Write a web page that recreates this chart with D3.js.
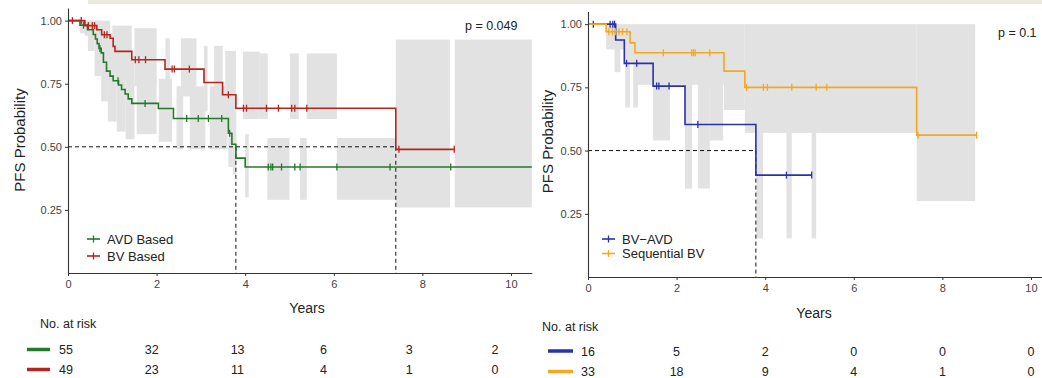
<!DOCTYPE html>
<html>
<head>
<meta charset="utf-8">
<script src="https://cdn.jsdelivr.net/npm/d3@7"></script>
<style>
  html, body { margin: 0; padding: 0; background: #fff; }
  svg { display: block; font-family: "Liberation Sans", Arial, sans-serif; }
</style>
</head>
<body>
<div id="chart"></div>
<script>
// Kaplan-Meier PFS curves - two panels
// Panel A: AVD based vs BV based; Panel B: BV-AVD vs sequential BV

const xTicks = [0, 2, 4, 6, 8, 10];
const yTicks = [0.25, 0.50, 0.75, 1.00];

// ── Panel A ────────────────────────────────────────────────────────────────
const avdTimes  = [0, 0.27, 0.44, 0.57, 0.62, 0.66, 0.70, 0.75, 0.80, 0.87, 0.95, 1.02, 1.14, 1.21, 1.29, 1.36, 1.44, 2.04, 2.38, 3.62, 3.70, 3.79, 4.00];
const avdSurv   = [1.00, 0.982, 0.964, 0.945, 0.927, 0.909, 0.890, 0.872, 0.835, 0.800, 0.780, 0.762, 0.745, 0.727, 0.709, 0.690, 0.672, 0.652, 0.612, 0.554, 0.510, 0.455, 0.420];
const avdEnd    = 10.47;
const avdCensor = [0.35, 0.72, 1.13, 1.74, 2.68, 2.94, 3.17, 3.47, 3.65, 4.52, 4.58, 4.62, 4.82, 5.12, 5.24, 6.07, 7.27, 8.64];

const bvTimes   = [0, 0.38, 0.65, 0.76, 0.95, 1.02, 1.06, 1.44, 2.19, 3.07, 3.49, 3.79, 7.40];
const bvSurv    = [1.00, 0.980, 0.964, 0.944, 0.930, 0.898, 0.878, 0.845, 0.808, 0.755, 0.706, 0.653, 0.490];
const bvEnd     = 8.72;
const bvCensor  = [0.10, 0.30, 0.46, 0.55, 0.60, 0.82, 0.88, 1.52, 1.60, 1.75, 2.35, 2.40, 2.74, 3.62, 3.96, 4.03, 4.48, 4.75, 5.05, 5.12, 5.39, 7.47, 8.72];

// confidence band blocks: [start, end, lower, upper]
const avdBand = [
  [0.27, 0.45, 0.95, 1.00], [0.45, 0.60, 0.88, 1.00], [0.60, 0.75, 0.78, 1.00],
  [0.75, 0.90, 0.68, 0.98], [0.90, 1.10, 0.60, 0.95], [1.10, 1.30, 0.56, 0.90],
  [1.30, 1.50, 0.53, 0.86], [1.55, 2.00, 0.55, 0.78], [2.05, 2.35, 0.52, 0.77],
  [2.45, 2.60, 0.49, 0.74], [2.75, 3.10, 0.49, 0.74], [3.20, 3.60, 0.49, 0.74],
  [3.62, 3.72, 0.42, 0.70], [3.72, 3.80, 0.39, 0.65], [4.00, 4.08, 0.30, 0.55],
  [4.50, 5.00, 0.29, 0.535], [5.24, 5.39, 0.29, 0.535], [6.07, 7.40, 0.29, 0.535],
  [7.40, 8.62, 0.26, 0.60], [8.73, 10.47, 0.26, 0.925]
];
const bvBand = [
  [0.38, 0.65, 0.94, 1.00], [0.65, 0.95, 0.86, 1.00], [1.00, 1.44, 0.77, 0.98],
  [1.50, 2.00, 0.74, 0.97], [2.20, 2.30, 0.70, 0.93], [2.55, 2.90, 0.70, 0.93],
  [3.07, 3.15, 0.64, 0.90], [3.30, 3.49, 0.64, 0.90], [3.55, 3.79, 0.58, 0.88],
  [3.95, 4.33, 0.61, 0.877], [4.33, 4.51, 0.61, 0.87], [5.01, 5.21, 0.61, 0.87],
  [5.39, 6.07, 0.61, 0.87], [7.40, 8.62, 0.26, 0.925]
];

const riskAvd = [55, 32, 13, 6, 3, 2];
const riskBv  = [49, 23, 11, 4, 1, 0];

// ── Panel B ────────────────────────────────────────────────────────────────
const bvavdTimes  = [0, 0.625, 0.82, 1.47, 2.19, 3.79];
const bvavdSurv   = [1.00, 0.9375, 0.845, 0.755, 0.603, 0.403];
const bvavdEnd    = 5.05;
const bvavdCensor = [0.12, 0.50, 0.56, 0.60, 0.87, 1.10, 1.55, 1.60, 1.83, 2.48, 4.48, 5.05];

const seqTimes  = [0, 0.41, 0.95, 1.06, 3.07, 3.54, 7.42];
const seqSurv   = [1.00, 0.970, 0.926, 0.887, 0.814, 0.750, 0.561];
const seqEnd    = 8.77;
const seqCensor = [0.47, 0.55, 0.62, 0.70, 0.78, 0.88, 1.70, 2.34, 2.38, 2.42, 2.75, 3.58, 3.96, 4.05, 4.60, 5.15, 5.39, 7.45, 8.77];

const bvavdBand = [
  [0.60, 0.73, 0.81, 1.00], [0.84, 0.95, 0.67, 0.95], [1.02, 1.13, 0.67, 0.95],
  [1.47, 1.85, 0.54, 0.95], [2.19, 2.35, 0.35, 0.92], [2.48, 2.75, 0.35, 0.92],
  [2.75, 3.05, 0.54, 0.90], [3.80, 3.95, 0.153, 0.85], [4.48, 4.60, 0.153, 0.85],
  [5.05, 5.15, 0.153, 0.85]
];
const seqBand = [
  [0.41, 0.95, 0.90, 1.00], [0.95, 1.06, 0.85, 1.00], [1.06, 3.07, 0.76, 1.00],
  [3.07, 3.54, 0.66, 1.00], [3.54, 7.42, 0.57, 1.00], [7.42, 8.74, 0.30, 1.00]
];

const riskBvavd = [16, 5, 2, 0, 0, 0];
const riskSeq   = [33, 18, 9, 4, 1, 0];

const width = 1042, height = 378;
const FONT = "'Liberation Sans', Arial, sans-serif";
const BAND = "#e2e2e2";

const svg = d3.select("#chart")
  .append("svg")
  .attr("width", width)
  .attr("height", height);

// screenshot strip along the top edge
svg.append("rect")
  .attr("x", 88).attr("y", 0)
  .attr("width", width - 88).attr("height", 4)
  .attr("fill", "#ebe8de");

// survival value at time t (step function)
function survAt(times, surv, t) {
  let v = surv[0];
  times.forEach((tt, i) => { if (tt <= t + 1e-9) v = surv[i]; });
  return v;
}

function drawPanel(p) {
  const g = svg.append("g");

  const x = d3.scaleLinear().domain([0, 10.47]).range(p.xRange);
  const y = d3.scaleLinear().domain([0, 1.05]).range(p.yRange);

  // CI bands first so they sit under everything
  p.curves.forEach(c => {
    g.selectAll(null)
      .data(c.band)
      .join("rect")
      .attr("x", d => x(d[0]))
      .attr("width", d => x(d[1]) - x(d[0]))
      .attr("y", d => y(d[3]))
      .attr("height", d => y(d[2]) - y(d[3]))
      .attr("fill", BAND);
  });

  // median guides
  const med = p.medians;
  g.append("line")
    .attr("x1", x(0)).attr("x2", x(d3.max(med)))
    .attr("y1", y(0.5)).attr("y2", y(0.5))
    .attr("stroke", "#111").attr("stroke-width", 1)
    .attr("stroke-dasharray", "4,3");
  med.forEach(m => {
    g.append("line")
      .attr("x1", x(m)).attr("x2", x(m))
      .attr("y1", y(0.5)).attr("y2", y(0))
      .attr("stroke", "#111").attr("stroke-width", 1)
      .attr("stroke-dasharray", "4,3");
  });

  // step curves + censor ticks
  p.curves.forEach(c => {
    const pts = c.times.map((t, i) => [t, c.surv[i]]);
    pts.push([c.end, c.surv[c.surv.length - 1]]);

    g.append("path")
      .datum(pts)
      .attr("d", d3.line().x(d => x(d[0])).y(d => y(d[1])).curve(d3.curveStepAfter))
      .attr("fill", "none")
      .attr("stroke", c.color)
      .attr("stroke-width", 1.6);

    g.selectAll(null)
      .data(c.censor)
      .join("line")
      .attr("x1", d => x(d)).attr("x2", d => x(d))
      .attr("y1", d => y(survAt(c.times, c.surv, d)) - 3.5)
      .attr("y2", d => y(survAt(c.times, c.surv, d)) + 3.5)
      .attr("stroke", c.color)
      .attr("stroke-width", 1.3);
  });

  // axes
  const xAxis = g.append("g")
    .attr("transform", `translate(0,${y(0)})`)
    .call(d3.axisBottom(x).tickValues(xTicks).tickSize(3).tickPadding(4).tickSizeOuter(0));
  const yAxis = g.append("g")
    .attr("transform", `translate(${x(0)},0)`)
    .call(d3.axisLeft(y).tickValues(yTicks).tickFormat(d3.format(".2f")).tickSize(3).tickPadding(3).tickSizeOuter(0));

  [xAxis, yAxis].forEach(a => {
    a.select(".domain").attr("stroke", "#333").attr("stroke-width", 1.1);
    a.selectAll(".tick line").attr("stroke", "#333");
    a.selectAll(".tick text")
      .style("font-family", FONT)
      .style("font-size", "11px")
      .attr("fill", "#444");
  });

  // axis titles
  g.append("text")
    .attr("transform", `translate(${p.yTitleX},${p.yTitleY}) rotate(-90)`)
    .attr("text-anchor", "middle")
    .style("font-size", "15px")
    .attr("fill", "#222")
    .text("PFS Probability");

  g.append("text")
    .attr("x", p.xTitle[0]).attr("y", p.xTitle[1])
    .attr("text-anchor", "middle")
    .style("font-size", "14px")
    .attr("fill", "#222")
    .text("Years");

  // p-value
  g.append("text")
    .attr("x", p.pPos[0]).attr("y", p.pPos[1])
    .style("font-size", "12.5px")
    .attr("fill", "#222")
    .text(p.pText);

  // legend
  p.curves.forEach((c, i) => {
    const ly = p.legend[1] + i * p.legendGap;
    const lx = p.legend[0];
    g.append("line")
      .attr("x1", lx).attr("x2", lx + 13)
      .attr("y1", ly).attr("y2", ly)
      .attr("stroke", c.color).attr("stroke-width", 1.6);
    g.append("line")
      .attr("x1", lx + 6.5).attr("x2", lx + 6.5)
      .attr("y1", ly - 3.5).attr("y2", ly + 3.5)
      .attr("stroke", c.color).attr("stroke-width", 1.3);
    g.append("text")
      .attr("x", lx + 20).attr("y", ly + 4.5)
      .style("font-size", "13px")
      .attr("fill", "#222")
      .text(c.name);
  });

  // risk table
  const rx = d3.scaleLinear().domain([0, 10]).range(p.riskRange);
  g.append("text")
    .attr("x", p.riskTitle[0]).attr("y", p.riskTitle[1])
    .style("font-size", "12.5px")
    .attr("fill", "#222")
    .text("No. at risk");

  p.curves.forEach((c, i) => {
    const ry = p.riskRows[i];
    g.append("line")
      .attr("x1", p.swatch[0]).attr("x2", p.swatch[1])
      .attr("y1", ry).attr("y2", ry)
      .attr("stroke", c.color).attr("stroke-width", 3.5);
    g.selectAll(null)
      .data(c.risk)
      .join("text")
      .attr("x", (d, j) => rx(xTicks[j]))
      .attr("y", ry + 4.5)
      .attr("text-anchor", "middle")
      .style("font-size", "12.5px")
      .attr("fill", "#222")
      .text(d => d);
  });
}

drawPanel({
  xRange: [68, 531.8], yRange: [273, 8],
  medians: [3.79, 7.40],
  yTitleX: 25, yTitleY: 140,
  xTitle: [307, 313],
  pPos: [465, 30], pText: "p = 0.049",
  legend: [87, 239], legendGap: 17,
  riskTitle: [40, 327.5], riskRows: [349.5, 369.5], riskRange: [66, 495], swatch: [27, 50],
  curves: [
    { name: "AVD Based", color: "#24792a", times: avdTimes, surv: avdSurv, end: avdEnd, censor: avdCensor, band: avdBand, risk: riskAvd },
    { name: "BV Based",  color: "#b3261e", times: bvTimes,  surv: bvSurv,  end: bvEnd,  censor: bvCensor,  band: bvBand,  risk: riskBv }
  ]
});

drawPanel({
  xRange: [588, 1051.8], yRange: [277, 11.5],
  medians: [3.79],
  yTitleX: 553, yTitleY: 141.5,
  xTitle: [814, 318],
  pPos: [998, 37], pText: "p = 0.1",
  legend: [602, 239], legendGap: 14.5,
  riskTitle: [542, 331], riskRows: [351, 371.5], riskRange: [588, 1031], swatch: [548, 573],
  curves: [
    { name: "BV\u2212AVD",       color: "#2b31a6", times: bvavdTimes, surv: bvavdSurv, end: bvavdEnd, censor: bvavdCensor, band: bvavdBand, risk: riskBvavd },
    { name: "Sequential BV", color: "#f4a81f", times: seqTimes,   surv: seqSurv,   end: seqEnd,   censor: seqCensor,   band: seqBand,   risk: riskSeq }
  ]
});
</script>
</body>
</html>
